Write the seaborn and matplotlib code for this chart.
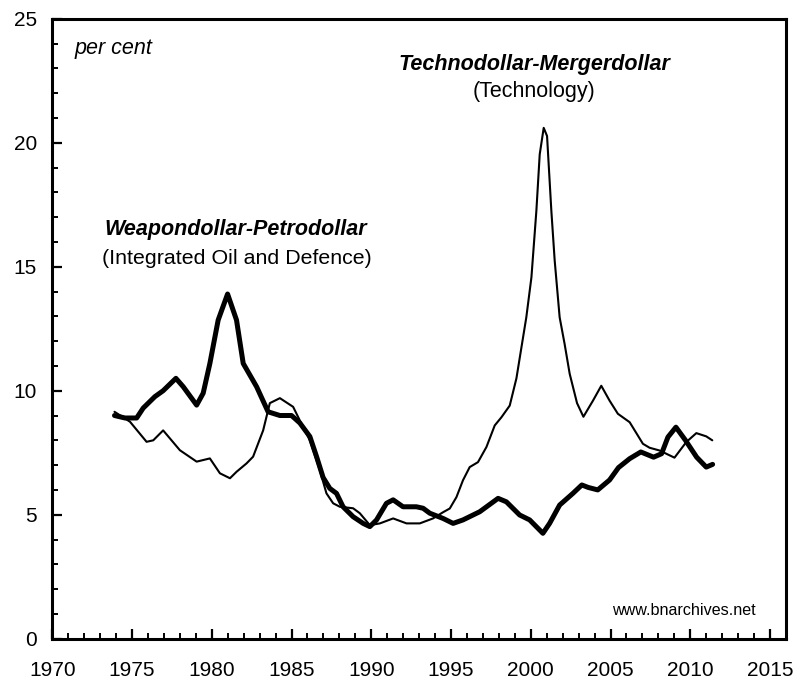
import matplotlib
matplotlib.use("Agg")
import matplotlib.pyplot as plt
from matplotlib.ticker import MultipleLocator
import seaborn as sns
import pandas as pd

# Weapondollar-Petrodollar (Integrated Oil and Defence) - thick line
years_weapon = [1973.9, 1974.56, 1975.29, 1975.7, 1976.43, 1976.95, 1977.75, 1978.21, 1979.05,
                1979.46, 1979.88, 1980.4, 1980.99, 1981.55, 1981.97, 1982.81, 1983.53, 1984.27,
                1985.0, 1985.52, 1986.15, 1986.57, 1986.98, 1987.4, 1987.82, 1988.23, 1988.86,
                1989.49, 1989.91, 1990.33, 1990.95, 1991.37, 1991.99, 1992.83, 1993.25, 1993.67,
                1994.5, 1995.13, 1995.75, 1996.8, 1997.95, 1998.47, 1999.3, 1999.93, 2000.76,
                2001.18, 2001.81, 2002.64, 2003.2, 2003.6, 2004.2, 2004.94, 2005.5, 2006.2,
                2006.9, 2007.7, 2008.2, 2008.6, 2009.1, 2009.7, 2010.4, 2011.0, 2011.4]
values_weapon = [9.0, 8.9, 8.9, 9.3, 9.76, 10.0, 10.5, 10.16, 9.42,
                 9.9, 11.1, 12.85, 13.9, 12.85, 11.1, 10.16, 9.15, 9.0,
                 9.0, 8.7, 8.15, 7.34, 6.5, 6.06, 5.86, 5.32, 4.92,
                 4.65, 4.52, 4.79, 5.46, 5.6, 5.32, 5.32, 5.26, 5.06,
                 4.85, 4.65, 4.79, 5.12, 5.66, 5.52, 4.99, 4.79, 4.25,
                 4.65, 5.39, 5.86, 6.2, 6.1, 6.0, 6.4, 6.9, 7.26,
                 7.53, 7.32, 7.46, 8.13, 8.53, 8.0, 7.32, 6.92, 7.03]

# Technodollar-Mergerdollar (Technology) - thin line
years_tech = [1973.9, 1974.87, 1975.91, 1976.33, 1976.95, 1978.0, 1979.05, 1979.88, 1980.51,
              1981.14, 1981.55, 1982.18, 1982.59, 1983.22, 1983.64, 1984.27, 1985.1, 1985.52,
              1986.15, 1986.77, 1987.19, 1987.61, 1988.03, 1988.86, 1989.28, 1989.91, 1990.54,
              1991.37, 1992.21, 1993.04, 1993.87, 1994.5, 1994.92, 1995.34, 1995.75, 1996.17,
              1996.69, 1997.22, 1997.74, 1998.16, 1998.68, 1999.1, 1999.72, 2000.04, 2000.35,
              2000.56, 2000.81, 2001.02, 2001.29, 2001.5, 2001.81, 2002.12, 2002.44, 2002.9,
              2003.3, 2003.9, 2004.42, 2004.94, 2005.46, 2006.2, 2007.03, 2007.45, 2008.07,
              2009.01, 2009.75, 2010.38, 2011.0, 2011.38]
values_tech = [9.15, 8.75, 7.94, 8.0, 8.4, 7.6, 7.14, 7.27, 6.67,
               6.47, 6.73, 7.07, 7.34, 8.4, 9.5, 9.7, 9.35, 8.8,
               8.0, 6.8, 5.86, 5.46, 5.32, 5.26, 5.06, 4.58, 4.65,
               4.85, 4.65, 4.65, 4.85, 5.1, 5.25, 5.71, 6.39, 6.92,
               7.12, 7.73, 8.6, 8.93, 9.4, 10.5, 12.96, 14.57, 17.25,
               19.53, 20.6, 20.27, 17.25, 15.24, 12.96, 11.89, 10.68, 9.5,
               8.95, 9.6, 10.2, 9.6, 9.07, 8.73, 7.86, 7.7, 7.59,
               7.3, 7.93, 8.29, 8.16, 8.0]

x_ticks = [1970, 1975, 1980, 1985, 1990, 1995, 2000, 2005, 2010, 2015]
y_ticks = [0, 5, 10, 15, 20, 25]

sns.set_style("white")
plt.rcParams['font.family'] = ['Liberation Sans', 'DejaVu Sans']
plt.rcParams['text.color'] = 'black'

fig = plt.figure(figsize=(7.96, 6.81), dpi=100)
ax = fig.add_axes([0.0657, 0.0621, 0.9217, 0.9104])

df_w = pd.DataFrame({"year": years_weapon, "value": values_weapon})
df_t = pd.DataFrame({"year": years_tech, "value": values_tech})

sns.lineplot(data=df_t, x="year", y="value", ax=ax, color="black", linewidth=1.5,
             sort=False, estimator=None)
sns.lineplot(data=df_w, x="year", y="value", ax=ax, color="black", linewidth=3.6,
             sort=False, estimator=None, solid_joinstyle="round", solid_capstyle="round")

ax.set_xlim(1970, 2016)
ax.set_ylim(0, 25)
ax.set_xticks(x_ticks)
ax.set_xticklabels([str(v) for v in x_ticks])
ax.set_yticks(y_ticks)
ax.set_yticklabels([str(v) for v in y_ticks])
ax.xaxis.set_minor_locator(MultipleLocator(1))
ax.yaxis.set_minor_locator(MultipleLocator(1))
ax.tick_params(axis="both", which="both", bottom=True, left=True, top=False, right=False)
ax.tick_params(axis="both", which="major", direction="in", length=7, width=1.6,
               labelsize=15, color="black", labelcolor="black")
ax.tick_params(axis="x", which="major", pad=16)
ax.tick_params(axis="y", which="major", pad=11)
ax.tick_params(axis="both", which="minor", direction="in", length=4.5, width=1.4, color="black")
ax.set_xlabel("")
ax.set_ylabel("")
for s in ax.spines.values():
    s.set_visible(True)
    s.set_color("black")
    s.set_linewidth(2.2)

ax.text(1971.4, 23.8, "per cent", fontsize=15.5, style="italic", ha="left", va="center",
        color="black")
ax.text(2000.2, 23.15, "Technodollar-Mergerdollar", fontsize=15.5, style="italic",
        fontweight="bold", ha="center", va="center", color="black")
ax.text(2000.2, 22.05, "(Technology)", fontsize=15.5, ha="center", va="center", color="black")
ax.text(1981.5, 16.52, "Weapondollar-Petrodollar", fontsize=15.5, style="italic",
        fontweight="bold", ha="center", va="center", color="black")
ax.text(1981.6, 15.35, "(Integrated Oil and Defence)", fontsize=15.4, ha="center",
        va="center", color="black")
ax.text(2014.1, 1.15, "www.bnarchives.net", fontsize=11.6, ha="right", va="center",
        color="black")

fig.savefig("out.png", dpi=100)
